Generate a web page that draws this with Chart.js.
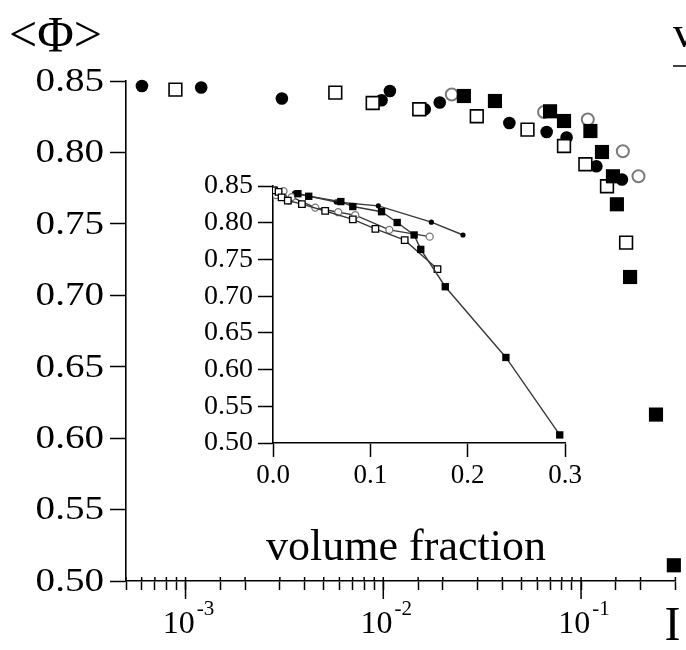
<!DOCTYPE html>
<html><head><meta charset="utf-8">
<script src="https://cdn.jsdelivr.net/npm/chart.js@4.4.1/dist/chart.umd.min.js"></script>
<style>
html,body{margin:0;padding:0;background:#fff;}
#wrap{position:relative;width:686px;height:650px;overflow:hidden;background:#fff;}
#main{position:absolute;left:0;top:0;width:686px;height:650px;}
#inset{position:absolute;left:180px;top:160px;width:420px;height:420px;}
</style></head><body>
<div id="wrap">
<canvas id="main" width="686" height="650"></canvas>
<canvas id="inset" width="420" height="420"></canvas>
</div>
<script>
// ---- data (same runs shown on log axis in main plot and linear axis in inset) ----
const filledCircleX = [0.000602, 0.00120, 0.00307, 0.0098, 0.0108, 0.0162, 0.0193, 0.0434, 0.067, 0.0845, 0.1195, 0.161];
const filledCircleY = [0.8465, 0.8454, 0.8377, 0.8365, 0.843, 0.8302, 0.8349, 0.8206, 0.8143, 0.8104, 0.7903, 0.781];
const openSquareX = [0.000889, 0.00572, 0.00884, 0.0152, 0.0297, 0.0536, 0.082, 0.1052, 0.1353, 0.169];
const openSquareY = [0.844, 0.8419, 0.8346, 0.8302, 0.8253, 0.816, 0.8045, 0.7917, 0.7763, 0.7369];
const openCircleX = [0.0222, 0.065, 0.1082, 0.1627, 0.1952];
const openCircleY = [0.8405, 0.8283, 0.823, 0.8008, 0.7833];
const filledSquareX = [0.02556, 0.0367, 0.0697, 0.082, 0.1115, 0.1276, 0.145, 0.1518, 0.177, 0.2393, 0.2946];
const filledSquareY = [0.8395, 0.836, 0.8288, 0.822, 0.815, 0.8003, 0.7833, 0.7637, 0.7128, 0.6165, 0.511];

const decadeValues = [0.001, 0.01, 0.1];
const decadeBase = ['10', '10', '10'];
const decadeExp = ['-3', '-2', '-1'];

const yAxisTitle = '<\u03A6>';
const xAxisTitle = 'I';
const insetXTitle = 'volume fraction';
const cornerText = 'v';

const zip = (xs, ys) => xs.map((x, i) => ({x: x, y: ys[i]}));
const SERIF = '"Liberation Serif", "Times New Roman", serif';

// ---- main chart ----
const annot = {
  id: 'annot',
  afterDraw(chart) {
    const ctx = chart.ctx, sx = chart.scales.x, sy = chart.scales.y, ca = chart.chartArea;
    ctx.save();
    ctx.fillStyle = '#000'; ctx.strokeStyle = '#000';
    // short inward part of every x tick
    ctx.lineWidth = 1.5;
    sx.ticks.forEach(t => {
      const px = sx.getPixelForValue(t.value);
      ctx.beginPath(); ctx.moveTo(px, ca.bottom - 4); ctx.lineTo(px, ca.bottom); ctx.stroke();
    });
    // y tick labels (slightly wide serif)
    ctx.font = '34px ' + SERIF; ctx.textAlign = 'right'; ctx.textBaseline = 'middle';
    sy.ticks.forEach(t => {
      const py = sy.getPixelForValue(t.value);
      ctx.save(); ctx.translate(ca.left - 22, py + 1); ctx.scale(1.15, 1);
      ctx.fillText(t.value.toFixed(2), 0, 0);
      ctx.restore();
    });
    // decade labels with superscript exponents, long major ticks
    ctx.textBaseline = 'alphabetic'; ctx.textAlign = 'left';
    decadeValues.forEach((v, i) => {
      const px = sx.getPixelForValue(v);
      ctx.lineWidth = 1.5;
      ctx.beginPath(); ctx.moveTo(px, ca.bottom); ctx.lineTo(px, ca.bottom + 18); ctx.stroke();
      ctx.font = '32px ' + SERIF; const bw = ctx.measureText(decadeBase[i]).width;
      ctx.font = '21px ' + SERIF; const sw = ctx.measureText(decadeExp[i]).width;
      const x0 = px + 3 - (bw + sw + 2) / 2;
      ctx.font = '32px ' + SERIF; ctx.fillText(decadeBase[i], x0, ca.bottom + 52);
      ctx.font = '21px ' + SERIF; ctx.fillText(decadeExp[i], x0 + bw + 2, ca.bottom + 34);
    });
    ctx.font = '50px ' + SERIF;
    ctx.fillText(yAxisTitle, 9, 51);
    ctx.font = '48px ' + SERIF; ctx.textAlign = 'right';
    ctx.fillText(xAxisTitle, ca.right + 5, ca.bottom + 59);
    ctx.font = '44px ' + SERIF; ctx.textAlign = 'left';
    ctx.fillText(cornerText, 673, 47);
    ctx.lineWidth = 1.5;
    ctx.beginPath(); ctx.moveTo(673, 66); ctx.lineTo(686, 66); ctx.stroke();
    ctx.restore();
  }
};

new Chart(document.getElementById('main'), {
  type: 'scatter',
  data: { datasets: [
    {label: 'filled squares', order: 0, clip: false, data: zip(filledSquareX, filledSquareY), pointStyle: 'rect', pointRadius: 10, backgroundColor: '#000', borderColor: '#000', borderWidth: 0},
    {label: 'open squares', order: 1, clip: false, data: zip(openSquareX, openSquareY), pointStyle: 'rect', pointRadius: 9, backgroundColor: '#fff', borderColor: '#000', borderWidth: 1.6},
    {label: 'open circles', order: 2, clip: false, data: zip(openCircleX, openCircleY), pointStyle: 'circle', pointRadius: 6, backgroundColor: 'rgba(255,255,255,0)', borderColor: '#7a7a7a', borderWidth: 2},
    {label: 'filled circles', order: 3, clip: false, data: zip(filledCircleX, filledCircleY), pointStyle: 'circle', pointRadius: 6.3, backgroundColor: '#000', borderColor: '#000', borderWidth: 0}
  ]},
  options: {
    responsive: false, animation: false, devicePixelRatio: 1,
    layout: {padding: {top: 81, right: 7, left: 0, bottom: 0}},
    plugins: {legend: {display: false}, tooltip: {enabled: false}},
    scales: {
      x: {
        type: 'logarithmic', min: 0.0005, max: 0.3, position: 'bottom',
        grid: {drawOnChartArea: false, drawTicks: true, tickLength: 9, tickColor: '#000', tickWidth: 1.5},
        border: {display: true, color: '#000', width: 1.6},
        ticks: {autoSkip: false, maxRotation: 0, callback: () => '', padding: 0},
        afterFit(s) { s.height = 69; }
      },
      y: {
        min: 0.5, max: 0.85,
        grid: {drawOnChartArea: false, drawTicks: true, tickLength: 16, tickColor: '#000', tickWidth: 1.5},
        border: {display: true, color: '#000', width: 1.6},
        ticks: {stepSize: 0.05, display: false},
        afterFit(s) { s.width = 126; }
      }
    }
  },
  plugins: [annot]
});

// ---- inset chart ----
const lineCol = '#3a3a3a';
const insetTitle = {
  id: 'insetTitle',
  afterDraw(chart) {
    const ctx = chart.ctx, ca = chart.chartArea;
    ctx.save();
    ctx.fillStyle = '#000'; ctx.textAlign = 'center'; ctx.textBaseline = 'alphabetic';
    ctx.font = '44px ' + SERIF;
    ctx.fillText(insetXTitle, (ca.left + ca.right) / 2 - 13, ca.bottom + 117);
    ctx.restore();
  }
};
new Chart(document.getElementById('inset'), {
  type: 'scatter',
  data: { datasets: [
    {label: 'filled squares', order: 0, showLine: true, data: zip(filledSquareX, filledSquareY), borderColor: lineCol, borderWidth: 1.4,
     pointStyle: 'rect', pointRadius: 5.2, pointBackgroundColor: '#000', pointBorderColor: '#000', pointBorderWidth: 0},
    {label: 'open squares', order: 1, showLine: true, data: zip(openSquareX, openSquareY), borderColor: lineCol, borderWidth: 1.4,
     pointStyle: 'rect', pointRadius: 4.6, pointBackgroundColor: '#fff', pointBorderColor: '#000', pointBorderWidth: 1.3},
    {label: 'open circles (main filled)', order: 2, showLine: true, data: zip(filledCircleX, filledCircleY), borderColor: lineCol, borderWidth: 1.4,
     pointStyle: 'circle', pointRadius: 3.5, pointBackgroundColor: '#fff', pointBorderColor: '#777', pointBorderWidth: 1.3},
    {label: 'small dots (main open)', order: 3, showLine: true, data: zip(openCircleX, openCircleY), borderColor: lineCol, borderWidth: 1.4,
     pointStyle: 'circle', pointRadius: 2.6, pointBackgroundColor: '#000', pointBorderColor: '#000', pointBorderWidth: 0}
  ]},
  options: {
    responsive: false, animation: false, devicePixelRatio: 1,
    layout: {padding: {top: 26, right: 35, left: 0, bottom: 0}},
    plugins: {legend: {display: false}, tooltip: {enabled: false}},
    scales: {
      x: {
        type: 'linear', min: 0, max: 0.3,
        grid: {drawOnChartArea: false, drawTicks: true, tickLength: 14, tickColor: '#000', tickWidth: 1.5},
        border: {display: true, color: '#000', width: 1.6},
        ticks: {stepSize: 0.1, color: '#000', padding: 3, maxRotation: 0, font: {family: SERIF, size: 27}, callback: v => v.toFixed(1)},
        afterFit(s) { s.height = 137; }
      },
      y: {
        min: 0.5, max: 0.85,
        grid: {drawOnChartArea: false, drawTicks: true, tickLength: 15, tickColor: '#000', tickWidth: 1.5},
        border: {display: true, color: '#000', width: 1.6},
        ticks: {stepSize: 0.05, color: '#000', padding: 5, font: {family: SERIF, size: 28}, callback: v => v.toFixed(2)},
        afterFit(s) { s.width = 93; }
      }
    }
  },
  plugins: [insetTitle]
});
</script>
</body></html>
